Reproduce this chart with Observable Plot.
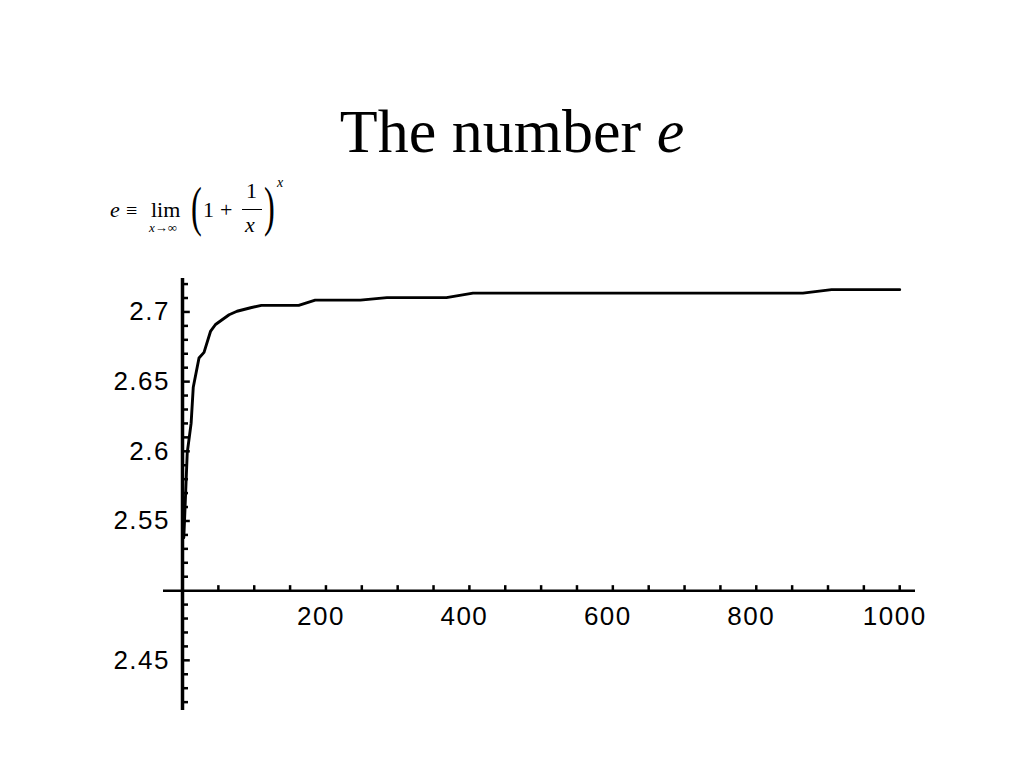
<!DOCTYPE html>
<html><head><meta charset="utf-8">
<script src="https://cdn.jsdelivr.net/npm/d3@7"></script>
<script src="https://cdn.jsdelivr.net/npm/@observablehq/plot@0.6"></script>
<style>
body{margin:0;background:#fff;width:1024px;height:768px;overflow:hidden;position:relative;font-family:"Liberation Serif",serif;color:#000}
#title{position:absolute;top:96px;left:0;width:1024px;text-align:center;font-size:62px;line-height:70px;white-space:nowrap}
#formula span{position:absolute;line-height:1;white-space:nowrap;font-family:"Liberation Serif",serif}
#formula .paren{transform-origin:left top;transform:scaleX(0.6)}
#formula .bar{border-top:1.4px solid #000;height:0;width:20px}
#chart{position:absolute;top:250px;left:0}
#chart svg text{letter-spacing:1.5px}
</style></head><body>
<div id="title">The number <i>e</i></div>
<div id="formula">
  <span style="left:110px;top:199px;font-size:22px"><i>e</i></span>
  <span style="left:126px;top:200px;font-size:20px">≡</span>
  <span style="left:151px;top:199px;font-size:22px">lim</span>
  <span style="left:149px;top:221px;font-size:13px"><i>x</i>→∞</span>
  <span class="paren" style="left:191px;top:180px;font-size:54px">(</span>
  <span style="left:203px;top:199px;font-size:22px">1</span>
  <span style="left:220px;top:199px;font-size:22px">+</span>
  <span style="left:246px;top:180px;font-size:22px">1</span>
  <span class="bar" style="left:242px;top:209px"></span>
  <span style="left:245px;top:214px;font-size:22px"><i>x</i></span>
  <span class="paren" style="left:264px;top:180px;font-size:54px">)</span>
  <span style="left:277px;top:176px;font-size:14px"><i>x</i></span>
</div>
<div id="chart"></div>
<script>
// Curve values
const xs = [1.8, 2.8, 6.6, 12, 15, 23, 30, 39, 46, 65, 76, 95, 110, 135, 162, 185, 248, 285, 368, 405, 865, 905, 1000];
const ys = [2.538, 2.55, 2.599, 2.62, 2.646, 2.667, 2.671, 2.686, 2.691, 2.698, 2.7005, 2.703, 2.7047, 2.7047, 2.7047, 2.7085, 2.7085, 2.7103, 2.7103, 2.7135, 2.7135, 2.716, 2.716];
// Tick labels
const xTickLabels = [200, 400, 600, 800, 1000];
const yTickLabels = [2.45, 2.55, 2.6, 2.65, 2.7];
const xMinorTicks = d3.range(50, 1001, 50);
const yMinorTicks = d3.range(242, 273, 1).map(v => v / 100);

const data = xs.map((x, i) => ({x, y: ys[i]}));

const W = 1024, H = 500;
const mL = 163, mR = 109, mT = 28, mB = 40;
const xDom = [-26.5, 1022], yDom = [2.414, 2.724];
const pxPerX = (W - mL - mR) / (xDom[1] - xDom[0]);
const pxPerY = (H - mT - mB) / (yDom[1] - yDom[0]);
const tx = 5 / pxPerY;   // x-axis tick length (in y units)
const ty = 6 / pxPerX;   // y-axis tick length (in x units)

const chart = Plot.plot({
  width: W, height: H,
  marginLeft: mL, marginRight: mR, marginTop: mT, marginBottom: mB,
  x: {domain: xDom, axis: null},
  y: {domain: yDom, axis: null},
  style: {background: "#fff"},
  marks: [
    Plot.ruleY([2.5], {x1: xDom[0], x2: xDom[1], stroke: "#000", strokeWidth: 2.5}),
    Plot.ruleX([0], {y1: yDom[0], y2: yDom[1], stroke: "#000", strokeWidth: 3.5}),
    Plot.ruleX(xMinorTicks, {x: d => d, y1: 2.5, y2: 2.5 + tx, stroke: "#000", strokeWidth: 2.5}),
    Plot.ruleY(yMinorTicks.filter(v => Math.abs(v - 2.5) > 1e-9), {y: d => d, x1: 0, x2: d => (Math.round(d * 100) % 5 === 0 ? 1.3 : 1) * ty, stroke: "#000", strokeWidth: 2.5}),
    Plot.text(xTickLabels, {x: d => d, y: 2.5, text: d => String(d), dx: -5, dy: 26, fontSize: 26, fontFamily: "Liberation Sans", fill: "#000", textAnchor: "middle"}),
    Plot.text(yTickLabels, {x: 0, y: d => d, text: d => String(d), dx: -12.5, fontSize: 26, fontFamily: "Liberation Sans", fill: "#000", textAnchor: "end"}),
    Plot.line(data, {x: "x", y: "y", stroke: "#000", strokeWidth: 2.9, strokeLinejoin: "round"})
  ]
});
document.getElementById("chart").appendChild(chart);
</script>
</body></html>
